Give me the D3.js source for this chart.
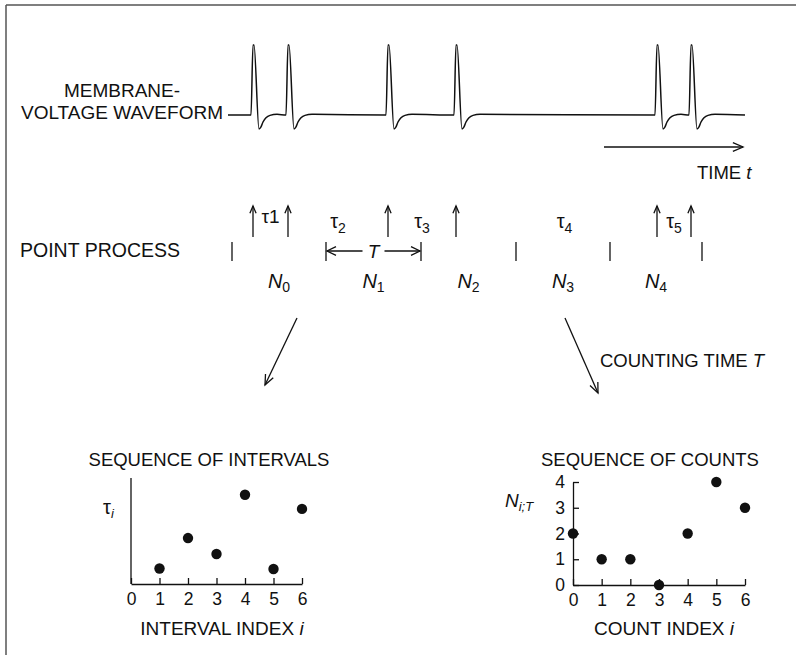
<!DOCTYPE html>
<html>
<head>
<meta charset="utf-8">
<script src="https://cdn.jsdelivr.net/npm/d3@7"></script>
<style>
  body { margin: 0; background: #fff; }
  svg text { font-family: "Liberation Sans", Arial, Helvetica, sans-serif; fill: #111; }
</style>
</head>
<body>
<svg id="chart" width="796" height="655"></svg>
<script>
// time axis of the trace, in arbitrary units
const spikeTimes = [25, 60, 160, 228, 429, 463];
const windowEdges = [4, 98, 193, 288, 382, 474];
// spike template: [time offset, voltage]
const spikeShape = [[-2, 0], [0, 100], [1, 100], [6, -20], [8, -17], [10, -10], [13, -4], [17, -0.5], [24, 1]];

const intervalIndex = [1, 2, 3, 4, 5, 6];
const intervalValues = [35, 104, 68, 202, 34, 170];
const countIndex = [0, 1, 2, 3, 4, 5, 6];
const countValues = [2, 1, 1, 0, 2, 4, 3];
const indexTicks = [0, 1, 2, 3, 4, 5, 6];
const countTicks = [0, 1, 2, 3, 4];

const svg = d3.select('#chart');
const ink = '#111';

// frame (top and left edge of the scan)
svg.append('line').attr('x1', 6).attr('y1', 5).attr('x2', 796).attr('y2', 5)
  .attr('stroke', '#555').attr('stroke-width', 1.5);
svg.append('line').attr('x1', 6).attr('y1', 5).attr('x2', 6).attr('y2', 655)
  .attr('stroke', '#555').attr('stroke-width', 1.5);

const tScale = d3.scaleLinear().domain([0, 517]).range([228, 745]);
const vScale = d3.scaleLinear().domain([0, 100]).range([115, 45]);

// waveform
let wave = [[0, 0]];
spikeTimes.forEach(s => spikeShape.forEach(([dt, v]) => wave.push([s + dt, v])));
wave.push([517, 0]);
wave.sort((a, b) => a[0] - b[0]);

svg.append('path')
  .datum(wave)
  .attr('d', d3.line().x(d => tScale(d[0])).y(d => vScale(d[1])).curve(d3.curveMonotoneX))
  .attr('fill', 'none')
  .attr('stroke', ink)
  .attr('stroke-width', 1.5);

// open arrow helper
const arrow = (x1, y1, x2, y2, head = 8, w = 0.45) => {
  const a = Math.atan2(y2 - y1, x2 - x1);
  const g = svg.append('g').attr('stroke', ink).attr('stroke-width', 1.3).attr('fill', 'none');
  g.append('line').attr('x1', x1).attr('y1', y1).attr('x2', x2).attr('y2', y2);
  g.append('path').attr('d', d3.line()([
    [x2 - head * Math.cos(a - w), y2 - head * Math.sin(a - w)],
    [x2, y2],
    [x2 - head * Math.cos(a + w), y2 - head * Math.sin(a + w)]
  ]));
};

// time arrow
arrow(tScale(376), 147, tScale(515), 147, 11, 0.4);

const label = (x, y, size, anchor) => svg.append('text')
  .attr('x', x).attr('y', y)
  .attr('font-size', size)
  .attr('text-anchor', anchor || 'start');

let t = label(697, 179, 18.5);
t.append('tspan').text('TIME ');
t.append('tspan').attr('font-style', 'italic').text('t');

label(122, 97, 19, 'middle').text('MEMBRANE-');
label(122, 119, 19, 'middle').text('VOLTAGE WAVEFORM');
label(20, 257, 19.5).text('POINT PROCESS');

// point process events
spikeTimes.forEach(s => arrow(tScale(s), 237, tScale(s), 206, 8, 0.4));

// interval labels
d3.pairs(spikeTimes).forEach(([a, b], i) => {
  const x = tScale((a + b) / 2) + (i === 3 ? 8 : 0);
  const tx = label(x, 228, 20, 'middle').attr('font-family', '"DejaVu Serif", serif');
  if (i === 0) {
    tx.attr('y', 223).attr('font-size', 19).text('τ1');
  } else {
    tx.append('tspan').text('τ');
    tx.append('tspan').attr('font-size', 14).attr('dy', 5)
      .attr('font-family', '"Liberation Sans", Arial, sans-serif').text(i + 1);
  }
});

// counting windows
windowEdges.forEach(e => {
  svg.append('line')
    .attr('x1', tScale(e)).attr('x2', tScale(e))
    .attr('y1', 242).attr('y2', 261)
    .attr('stroke', ink).attr('stroke-width', 1.3);
});

const tx1 = tScale(windowEdges[1]);
const tx2 = tScale(windowEdges[2]);
const tm = (tx1 + tx2) / 2;
arrow(tm - 11, 251, tx1 + 1, 251, 10, 0.45);
arrow(tm + 11, 251, tx2 - 1, 251, 10, 0.45);
label(tm, 258, 19, 'middle').attr('font-style', 'italic').text('T');

d3.pairs(windowEdges).forEach(([a, b], i) => {
  const tx = label(tScale((a + b) / 2), 288, 20, 'middle');
  tx.append('tspan').attr('font-style', 'italic').text('N');
  tx.append('tspan').attr('font-size', 14).attr('dy', 4).text(i);
});

// diagonal arrows
arrow(297, 318, 265, 385, 11, 0.4);
arrow(565, 318, 598, 393, 11, 0.4);

t = label(600, 367, 18.5);
t.append('tspan').text('COUNTING TIME ');
t.append('tspan').attr('font-style', 'italic').text('T');

// ---- interval plot ----
const x1 = d3.scaleLinear().domain([0, 6]).range([131, 302]);
const y1 = d3.scaleLinear().domain([0, 240]).range([584, 478]);

svg.append('line').attr('x1', x1(0)).attr('x2', x1(0)).attr('y1', y1(0)).attr('y2', y1(240))
  .attr('stroke', ink).attr('stroke-width', 1.3);

const ax1 = svg.append('g')
  .attr('transform', `translate(0,${y1(0)})`)
  .call(d3.axisBottom(x1).tickValues(indexTicks).tickFormat(d3.format('d')).tickSizeInner(-6).tickSizeOuter(0).tickPadding(9));
ax1.selectAll('path, line').attr('stroke', ink).attr('stroke-width', 1.3);
ax1.selectAll('text').attr('font-size', 17.5).attr('font-family', '"Liberation Sans", Arial, sans-serif').attr('fill', ink);

svg.append('g').selectAll('circle')
  .data(intervalIndex)
  .join('circle')
  .attr('cx', d => x1(d))
  .attr('cy', (d, i) => y1(intervalValues[i]))
  .attr('r', 5.2)
  .attr('fill', ink);

label(209, 466, 18.5, 'middle').text('SEQUENCE OF INTERVALS');
t = label(103, 514, 20).attr('font-family', '"DejaVu Serif", serif');
t.append('tspan').text('τ');
t.append('tspan').attr('font-size', 13).attr('dy', 4).attr('font-style', 'italic')
  .attr('font-family', '"Liberation Sans", Arial, sans-serif').text('i');
t = label(222, 635, 19, 'middle');
t.append('tspan').text('INTERVAL INDEX ');
t.append('tspan').attr('font-style', 'italic').text('i');

// ---- count plot ----
const x2 = d3.scaleLinear().domain([0, 6]).range([573, 745]);
const y2 = d3.scaleLinear().domain([0, 4]).range([585, 482]);

const ay2 = svg.append('g')
  .attr('transform', `translate(${x2(0)},0)`)
  .call(d3.axisLeft(y2).tickValues(countTicks).tickFormat(d3.format('d')).tickSizeInner(-6).tickSizeOuter(0).tickPadding(8));
const ax2 = svg.append('g')
  .attr('transform', `translate(0,${y2(0)})`)
  .call(d3.axisBottom(x2).tickValues(indexTicks).tickFormat(d3.format('d')).tickSizeInner(-6).tickSizeOuter(0).tickPadding(9));
[ay2, ax2].forEach(a => {
  a.selectAll('path, line').attr('stroke', ink).attr('stroke-width', 1.3);
  a.selectAll('text').attr('font-size', 17.5).attr('font-family', '"Liberation Sans", Arial, sans-serif').attr('fill', ink);
});

svg.append('g').selectAll('circle')
  .data(countIndex)
  .join('circle')
  .attr('cx', d => x2(d))
  .attr('cy', (d, i) => y2(countValues[i]))
  .attr('r', 5.2)
  .attr('fill', ink);

label(650, 466, 18.5, 'middle').text('SEQUENCE OF COUNTS');
t = label(505, 507, 19);
t.append('tspan').attr('font-style', 'italic').text('N');
t.append('tspan').attr('font-size', 13).attr('dy', 4).attr('font-style', 'italic').text('i;T');
t = label(664, 635, 19, 'middle');
t.append('tspan').text('COUNT INDEX ');
t.append('tspan').attr('font-style', 'italic').text('i');
</script>
</body>
</html>
